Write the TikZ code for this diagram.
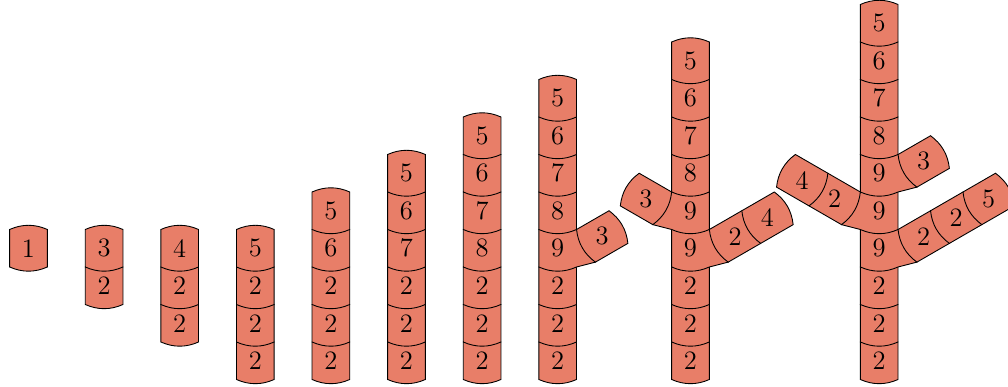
\documentclass[tikz,border=0pt]{standalone}
\definecolor{blockred}{RGB}{232,126,104}
\def\BW{37.7}
\def\BH{37.5}
\def\BD{5.6}
\tikzset{
  blockfill/.style={draw=black, fill=blockred, line width=0.4pt, line join=miter},
  lbl/.style={inner sep=0pt, font=\large}
}
% plain block: bottom-left corner (#1,#2), label #3, node name #4
\newcommand\blk[4]{%
  \draw[blockfill] (#1,#2) .. controls +(\BW/3,-\BD) and +(-\BW/3,-\BD) .. ++(\BW,0)
     -- ++(0,\BH) .. controls +(-\BW/3,\BD) and +(\BW/3,\BD) .. ++(-\BW,0) -- cycle;
  \node[lbl] (#4) at (#1+\BW/2,#2+\BH/2) {#3};}
% junction block with a branch to the right
\newcommand\jright[4]{%
  \draw[blockfill] (#1,#2) .. controls +(\BW/3,-\BD) and +(-\BW/3,-\BD) .. ++(\BW,0)
     -- ++(0.5*\BW,\BH-0.866*\BW) -- ++(-0.5*\BW,0.866*\BW)
     .. controls +(-\BW/3,\BD) and +(\BW/3,\BD) .. ++(-\BW,0) -- cycle;
  \node[lbl] (#4) at (#1+\BW/2,#2+\BH/2) {#3};}
% junction block with a branch to the left
\newcommand\jleft[4]{%
  \draw[blockfill] (#1,#2) .. controls +(\BW/3,-\BD) and +(-\BW/3,-\BD) .. ++(\BW,0)
     -- ++(0,\BH) .. controls +(-\BW/3,\BD) and +(\BW/3,\BD) .. ++(-\BW,0)
     -- ++(-0.5*\BW,-0.866*\BW) -- cycle;
  \node[lbl] (#4) at (#1+\BW/2,#2+\BH/2) {#3};}
\begin{document}
\begin{tikzpicture}[x=0.4519pt,y=0.4519pt]
\useasboundingbox (0,0) rectangle (1008,387);
\clip (0,0) rectangle (1008,387);
% column 1
\blk{9.65}{120}{1}{a1}
% column 2
\blk{85.25}{82.5}{2}{b1}
\blk{85.25}{120}{3}{b2}
% column 3
\blk{160.85}{45}{2}{c1}
\blk{160.85}{82.5}{2}{c2}
\blk{160.85}{120}{4}{c3}
% column 4
\blk{236.45}{7.5}{2}{d1}
\blk{236.45}{45}{2}{d2}
\blk{236.45}{82.5}{2}{d3}
\blk{236.45}{120}{5}{d4}
% column 5
\blk{312.05}{7.5}{2}{e1}
\blk{312.05}{45}{2}{e2}
\blk{312.05}{82.5}{2}{e3}
\blk{312.05}{120}{6}{e4}
\blk{312.05}{157.5}{5}{e5}
% column 6
\blk{387.65}{7.5}{2}{f1}
\blk{387.65}{45}{2}{f2}
\blk{387.65}{82.5}{2}{f3}
\blk{387.65}{120}{7}{f4}
\blk{387.65}{157.5}{6}{f5}
\blk{387.65}{195}{5}{f6}
% column 7
\blk{463.25}{7.5}{2}{g1}
\blk{463.25}{45}{2}{g2}
\blk{463.25}{82.5}{2}{g3}
\blk{463.25}{120}{8}{g4}
\blk{463.25}{157.5}{7}{g5}
\blk{463.25}{195}{6}{g6}
\blk{463.25}{232.5}{5}{g7}
% column 8
\blk{538.85}{7.5}{2}{h1}
\blk{538.85}{45}{2}{h2}
\blk{538.85}{82.5}{2}{h3}
\jright{538.85}{120}{9}{h4}
\blk{538.85}{157.5}{8}{h5}
\blk{538.85}{195}{7}{h6}
\blk{538.85}{232.5}{6}{h7}
\blk{538.85}{270}{5}{h8}
% column 9
\blk{671.65}{7.5}{2}{i1}
\blk{671.65}{45}{2}{i2}
\blk{671.65}{82.5}{2}{i3}
\jright{671.65}{120}{9}{i4}
\jleft{671.65}{157.5}{9}{i5}
\blk{671.65}{195}{8}{i6}
\blk{671.65}{232.5}{7}{i7}
\blk{671.65}{270}{6}{i8}
\blk{671.65}{307.5}{5}{i9}
% column 10
\blk{860.35}{7.5}{2}{j1}
\blk{860.35}{45}{2}{j2}
\blk{860.35}{82.5}{2}{j3}
\jright{860.35}{120}{9}{j4}
\jleft{860.35}{157.5}{9}{j5}
\jright{860.35}{195}{9}{j6}
\blk{860.35}{232.5}{8}{j7}
\blk{860.35}{270}{7}{j8}
\blk{860.35}{307.5}{6}{j9}
\blk{860.35}{345}{5}{j10}
% branches
\begin{scope}[shift={(576.55,157.5)},rotate=-60]
  \blk{0}{0}{3}{h4r1}
\end{scope}
\begin{scope}[shift={(709.35,157.5)},rotate=-60]
  \blk{0}{0}{2}{i4r1}
  \blk{0}{\BH}{4}{i4r2}
\end{scope}
\begin{scope}[shift={(671.65,195)},rotate=60]
  \blk{-\BW}{0}{3}{i5l1}
\end{scope}
\begin{scope}[shift={(898.05,157.5)},rotate=-60]
  \blk{0}{0}{2}{j4r1}
  \blk{0}{\BH}{2}{j4r2}
  \blk{0}{2*\BH}{5}{j4r3}
\end{scope}
\begin{scope}[shift={(860.35,195)},rotate=60]
  \blk{-\BW}{0}{2}{j5l1}
  \blk{-\BW}{\BH}{4}{j5l2}
\end{scope}
\begin{scope}[shift={(898.05,232.5)},rotate=-60]
  \blk{0}{0}{3}{j6r1}
\end{scope}
\end{tikzpicture}
\end{document}
